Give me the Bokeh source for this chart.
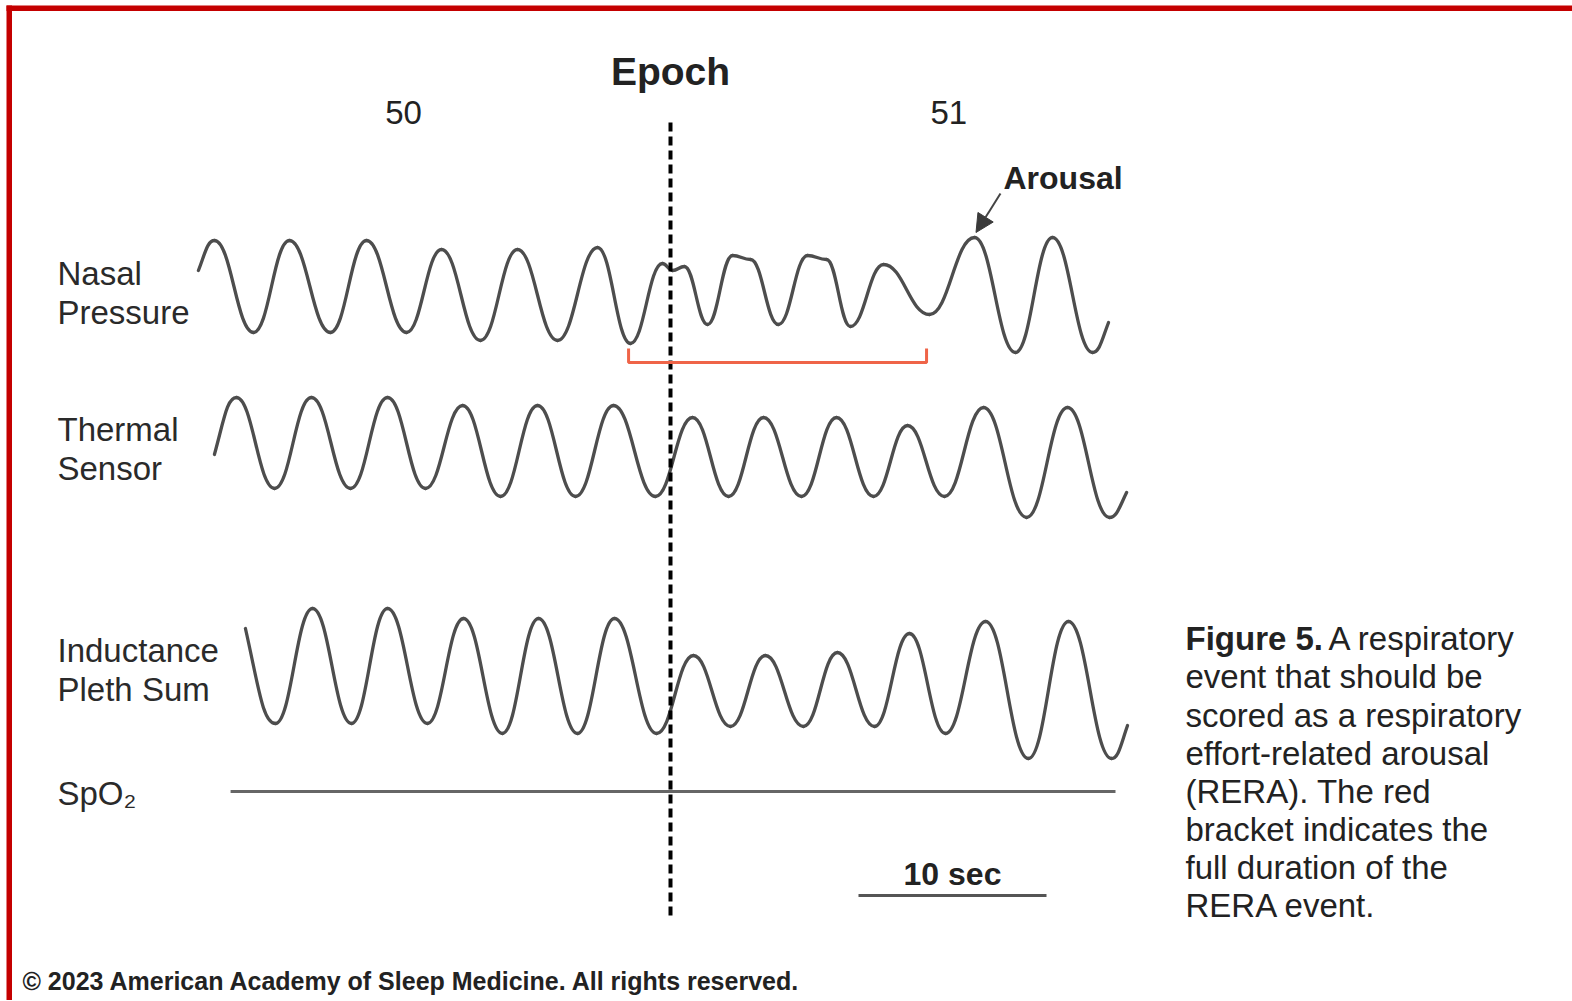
import numpy as np
from bokeh.plotting import figure
from bokeh.models import Range1d, Arrow, NormalHead
from bokeh.core.properties import value
from bokeh.embed import file_html
from bokeh.resources import INLINE

# ---------------- data (time in s, amplitude in a.u.) ----------------
epoch_labels = ["50", "51"]
epoch_label_t = [15.8, 44.8]
epoch_boundary_t = 30.0

nasal_t = [4.89, 5.74, 7.82, 9.73, 11.91, 13.83, 15.96, 17.82, 19.89, 21.86,
           23.99, 26.12, 27.87, 29.57, 30.11, 30.74, 31.97, 33.30, 34.26, 35.74,
           37.29, 38.30, 39.57, 41.33, 43.78, 46.17, 48.35, 50.32, 52.45, 53.30]
nasal_v = [0.40, 1.00, -0.84, 1.00, -0.84, 1.00, -0.84, 0.82, -1.00, 0.82,
           -1.00, 0.86, -1.06, 0.54, 0.40, 0.48, -0.68, 0.70, 0.62, -0.68,
           0.70, 0.62, -0.72, 0.52, -0.48, 1.06, -1.24, 1.06, -1.24, -0.64]

thermal_t = [5.74, 6.91, 8.94, 10.90, 12.98, 14.95, 16.97, 18.94, 20.96, 22.93,
             24.95, 26.97, 29.20, 31.17, 33.09, 34.95, 36.97, 38.83, 40.80, 42.61,
             44.57, 46.65, 48.94, 51.12, 53.35, 54.26]
thermal_v = [-0.08, 1.06, -0.76, 1.06, -0.76, 1.06, -0.76, 0.90, -0.92, 0.90,
             -0.92, 0.90, -0.92, 0.66, -0.92, 0.66, -0.92, 0.66, -0.92, 0.50,
             -0.92, 0.86, -1.34, 0.86, -1.34, -0.84]

induct_t = [7.39, 8.99, 10.96, 13.03, 14.95, 17.07, 18.99, 21.06, 22.98, 25.05,
            27.02, 29.26, 31.22, 33.19, 35.05, 37.07, 38.88, 40.85, 42.71, 44.63,
            46.76, 49.04, 51.17, 53.46, 54.31]
induct_v = [0.84, -1.06, 1.24, -1.06, 1.24, -1.06, 1.04, -1.26, 1.04, -1.26,
            1.04, -1.26, 0.30, -1.12, 0.30, -1.12, 0.36, -1.12, 0.74, -1.26,
            0.98, -1.76, 0.98, -1.76, -1.10]

spo2_t = [6.60, 53.67]
spo2_v = [0.0, 0.0]

rera_start, rera_end = 27.77, 43.62
arousal_t = 46.17
scalebar_t = [40.0, 50.0]

channel_labels = [["Nasal", "Pressure"], ["Thermal", "Sensor"],
                  ["Inductance", "Pleth Sum"], ["SpO₂"]]

caption_bold = "Figure 5."
caption_lines = ["A respiratory", "event that should be", "scored as a respiratory",
                 "effort-related arousal", "(RERA). The red", "bracket indicates the",
                 "full duration of the", "RERA event."]
footer = "© 2023 American Academy of Sleep Medicine. All rights reserved."

# ---------------- layout helpers (reference pixel -> data) ----------------
PX_PER_S = 18.8
T0_PX = 106.0
Y0_PX = 600.0
PX_PER_U = 50.0
W, H = 1572, 1000


def X(px):
    return (px - T0_PX) / PX_PER_S


def Y(py):
    return (Y0_PX - py) / PX_PER_U


FONT = value("Liberation Sans")
TXT = "#222222"
WAVE = "#4d4d4d"

p = figure(width=W, height=H, output_backend="svg", toolbar_location=None,
           x_range=Range1d(X(0), X(W)), y_range=Range1d(Y(H), Y(0)),
           x_axis_type=None, y_axis_type=None, min_border=0)
p.outline_line_color = None
p.background_fill_color = "white"
p.border_fill_color = "white"


def draw_trace(t, v, base):
    t = np.asarray(t, float)
    y = np.asarray(v, float) + base
    x0, y0, x1, y1 = t[:-1], y[:-1], t[1:], y[1:]
    d = 0.43 * (x1 - x0)
    cx0, cy0 = x0 + d, y0.copy()
    cx1, cy1 = x1 - d, y1.copy()
    cy0[0] = y0[0] + 0.6 * (y1[0] - y0[0])
    cy1[-1] = y1[-1] - 0.6 * (y1[-1] - y0[-1])
    p.bezier(x0=x0, y0=y0, x1=x1, y1=y1, cx0=cx0, cy0=cy0, cx1=cx1, cy1=cy1,
             line_color=WAVE, line_width=3.3, line_cap="round")


base_nasal, base_thermal, base_induct, base_spo2 = Y(290), Y(450), Y(670), Y(791)
draw_trace(nasal_t, nasal_v, base_nasal)
draw_trace(thermal_t, thermal_v, base_thermal)
draw_trace(induct_t, induct_v, base_induct)
p.line(spo2_t, np.asarray(spo2_v) + base_spo2, line_color="#666666", line_width=3)

# epoch boundary
p.segment(x0=[epoch_boundary_t], y0=[Y(122)], x1=[epoch_boundary_t], y1=[Y(920)],
          line_color="black", line_width=4, line_dash="9 5")

# RERA bracket
bracket_y, tick_y = Y(362), Y(348)
p.line([rera_start, rera_start, rera_end, rera_end], [tick_y, bracket_y, bracket_y, tick_y],
       line_color="#ef6448", line_width=3)

# arousal arrow
p.add_layout(Arrow(x_start=X(1000), y_start=Y(193), x_end=arousal_t + 0.08, y_end=Y(232),
                   line_color="#444444", line_width=2,
                   end=NormalHead(size=18, fill_color="#3a3a3a", line_color="#3a3a3a")))
p.text(x=[X(1003)], y=[Y(177)], text=["Arousal"], text_font=FONT, text_font_size="32px",
       text_font_style="bold", text_color=TXT, text_baseline="middle", text_align="left")

# scale bar
p.line(scalebar_t, [Y(895), Y(895)], line_color="#555555", line_width=3)
p.text(x=[sum(scalebar_t) / 2], y=[Y(873)], text=["10 sec"], text_font=FONT,
       text_font_size="32px", text_font_style="bold", text_color=TXT,
       text_baseline="middle", text_align="center")

# epoch title and numbers
p.text(x=[epoch_boundary_t], y=[Y(71)], text=["Epoch"], text_font=FONT, text_font_size="39px",
       text_font_style="bold", text_color=TXT, text_baseline="middle", text_align="center")
p.text(x=epoch_label_t, y=[Y(112)] * 2, text=epoch_labels, text_font=FONT,
       text_font_size="33px", text_color=TXT, text_baseline="middle", text_align="center")

# channel labels
label_rows = [[273, 312], [429, 468], [650, 689], [793]]
lx, ly, lt = [], [], []
for names, rows in zip(channel_labels, label_rows):
    for n, r in zip(names, rows):
        lx.append(X(57)); ly.append(Y(r)); lt.append(n)
p.text(x=lx, y=ly, text=lt, text_font=FONT, text_font_size="33px", text_color="#2a2a2a",
       text_baseline="middle", text_align="left")

# caption
cap_y = [638, 676, 715, 753, 791, 829, 867, 905]
p.text(x=[X(1185)], y=[Y(cap_y[0])], text=[caption_bold], text_font=FONT, text_font_size="33px",
       text_font_style="bold", text_color=TXT, text_baseline="middle", text_align="left")
cap_x = [X(1328)] + [X(1185)] * (len(caption_lines) - 1)
p.text(x=cap_x, y=[Y(v) for v in cap_y], text=caption_lines, text_font=FONT,
       text_font_size="33px", text_color=TXT, text_baseline="middle", text_align="left")

# footer
p.text(x=[X(22)], y=[Y(980)], text=[footer], text_font=FONT,
       text_font_size="25px", text_font_style="bold", text_color=TXT,
       text_baseline="middle", text_align="left")

# red frame (top and left)
p.quad(left=[X(6), X(6)], right=[X(11.5), X(W)], top=[Y(5), Y(5)], bottom=[Y(H), Y(10.5)],
       color="#c40000", line_width=0)

open("out.html", "w").write(file_html(p, INLINE))
